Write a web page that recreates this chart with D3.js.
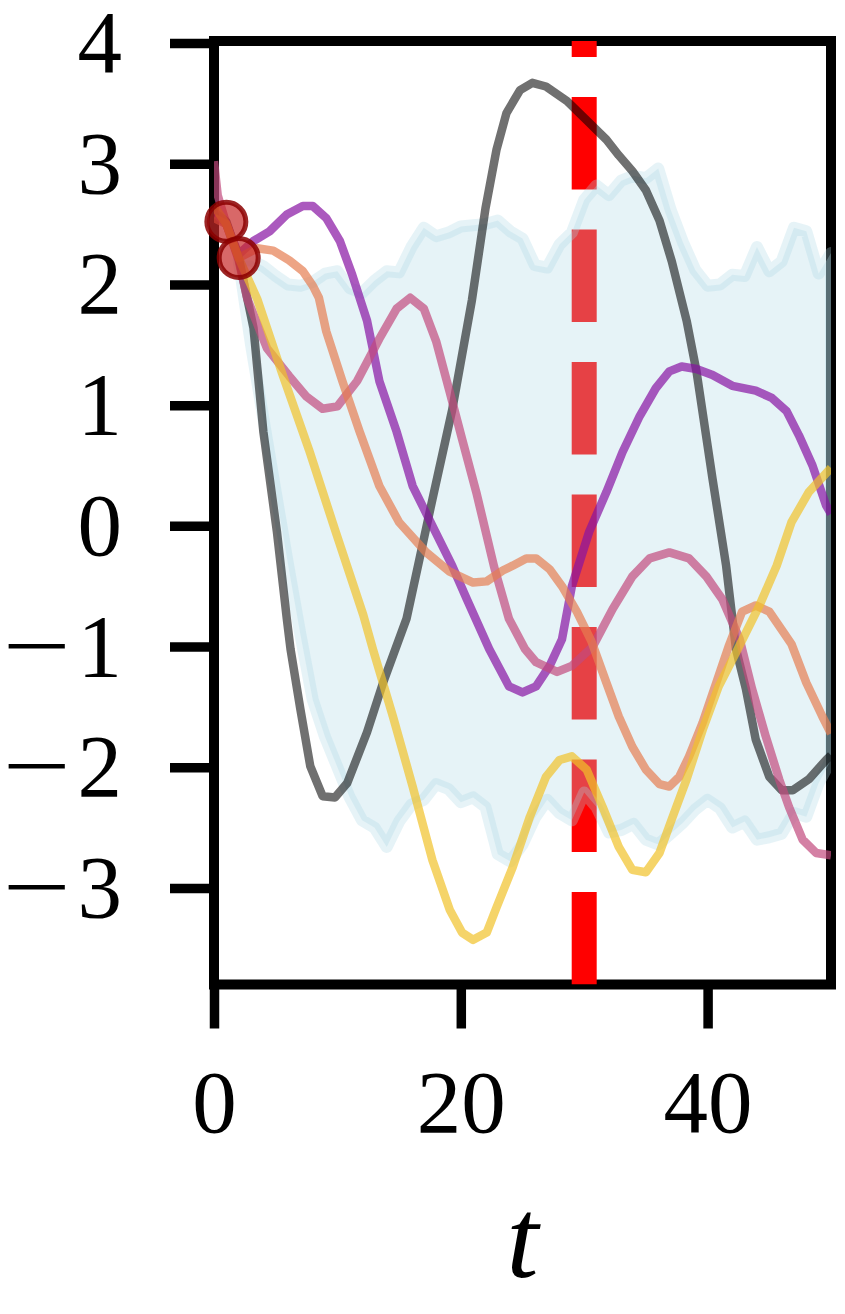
<!DOCTYPE html>
<html>
<head>
<meta charset="utf-8">
<script src="https://cdn.jsdelivr.net/npm/d3@7"></script>
<style>
    body { margin: 0; background: #fff; }
    svg { display: block; }
</style>
</head>
<body>
<div id="chart"></div>
<script>
// Tick values
let xTicks = [0, 20, 40];
let yTicks = [-3, -2, -1, 0, 1, 2, 3, 4];

// Observed points and the marked time
let obsT = [1, 2];
let obsY = [2.52, 2.22];
let markT = 30;

// Uncertainty band
let bandT = [2, 3, 4, 5, 6, 7, 8, 9, 10, 11, 12, 13, 14, 15, 16, 17, 18, 19, 20, 21, 22, 23, 24, 25, 26,
    27, 28, 29, 30, 31, 32, 33, 34, 35, 36, 37, 38, 39, 40, 41, 42, 43, 44, 45, 46, 47, 48, 49, 50];
let bandUpper = [2.20, 2.20, 2.15, 2.07, 2.00, 1.99, 2.02, 2.09, 2.11, 1.97, 1.93, 2.03, 2.11, 2.10, 2.31,
    2.47, 2.40, 2.43, 2.48, 2.49, 2.50, 2.53, 2.44, 2.38, 2.16, 2.14, 2.33, 2.43, 2.70, 2.82, 2.74, 2.86,
    2.90, 2.88, 2.96, 2.62, 2.35, 2.12, 1.99, 2.00, 2.08, 2.07, 2.31, 2.11, 2.19, 2.47, 2.44, 2.09, 2.26];
let bandLower = [2.20, 1.50, 0.89, 0.28, -0.32, -0.90, -1.44, -1.75, -2.00, -2.25, -2.44, -2.50, -2.66,
    -2.45, -2.31, -2.27, -2.14, -2.18, -2.29, -2.25, -2.33, -2.72, -2.78, -2.64, -2.42, -2.27, -2.38, -2.44,
    -2.21, -2.33, -2.54, -2.52, -2.47, -2.60, -2.64, -2.55, -2.46, -2.35, -2.27, -2.34, -2.50, -2.45, -2.60,
    -2.58, -2.55, -2.38, -2.41, -2.13, -1.94];

// Sample paths
let grayT = [0, 1, 2, 3.2, 4.0, 5.1, 5.9, 6.2, 7.0, 7.8, 8.8, 9.8, 10.8, 12.4, 13.7, 15.6, 17.7, 19.3, 20.9,
    22.0, 22.9, 23.7, 24.8, 25.8, 26.9, 28.6, 30.2, 31.8, 32.8, 33.9, 35.0, 36.1, 37.1, 38.3, 39.1, 40.4,
    41.5, 42.3, 43.1, 43.9, 45.0, 46.0, 46.9, 48.2, 49.6, 50];
let grayY = [2.6, 2.52, 2.22, 1.64, 0.78, -0.05, -0.77, -1.02, -1.52, -1.99, -2.24, -2.25, -2.13, -1.71,
    -1.30, -0.77, 0.22, 0.96, 1.87, 2.63, 3.12, 3.42, 3.61, 3.67, 3.64, 3.52, 3.36, 3.20, 3.07, 2.94, 2.78,
    2.53, 2.19, 1.70, 1.28, 0.39, -0.33, -1.02, -1.35, -1.77, -2.08, -2.19, -2.19, -2.10, -1.94, -1.90];

let purpleT = [0, 1, 2, 3.2, 4.5, 5.9, 7.2, 8.0, 9.1, 10.2, 11.2, 11.8, 12.4, 13.4, 14.8, 16.1, 17.7, 19.3,
    20.5, 22.3, 23.9, 25.0, 26.1, 27.2, 28.2, 29.0, 30.4, 31.8, 33.1, 34.5, 35.8, 36.9, 37.9, 39.1, 40.4,
    42.0, 43.9, 45.2, 46.4, 47.4, 48.5, 49.6, 50];
let purpleY = [2.6, 2.5, 2.25, 2.36, 2.44, 2.58, 2.65, 2.65, 2.55, 2.36, 2.08, 1.89, 1.70, 1.20, 0.78, 0.33,
    0.00, -0.33, -0.61, -1.02, -1.33, -1.38, -1.33, -1.16, -0.94, -0.50, -0.05, 0.28, 0.61, 0.91, 1.14, 1.28,
    1.32, 1.30, 1.25, 1.16, 1.12, 1.06, 0.95, 0.75, 0.50, 0.17, 0.10];

let pinkT = [0, 0.3, 1, 2, 2.7, 4.3, 6.1, 7.5, 8.8, 10.0, 11.6, 13.4, 14.8, 15.9, 17.0, 18.0, 19.1, 20.1,
    21.3, 22.7, 23.9, 25.2, 26.1, 27.8, 29.0, 30.7, 32.3, 33.9, 35.3, 36.9, 38.5, 39.9, 41.2, 42.6, 43.6,
    44.7, 45.8, 46.6, 47.7, 48.8, 50];
let pinkY = [3.02, 2.74, 2.5, 2.2, 1.88, 1.47, 1.24, 1.07, 0.97, 0.99, 1.20, 1.55, 1.80, 1.89, 1.80, 1.53,
    1.11, 0.72, 0.26, -0.34, -0.77, -1.02, -1.13, -1.21, -1.16, -1.00, -0.69, -0.42, -0.27, -0.22, -0.27,
    -0.42, -0.61, -0.94, -1.35, -1.74, -2.10, -2.33, -2.60, -2.71, -2.73];

let orangeT = [0, 1, 2, 3.5, 4.8, 6.1, 7.2, 8.0, 8.5, 9.1, 10.4, 11.8, 13.4, 15.0, 17.2, 19.1, 21.0, 22.1,
    23.4, 24.2, 25.3, 26.1, 27.2, 28.2, 29.4, 30.6, 31.8, 32.8, 33.9, 35.0, 36.1, 36.9, 37.7, 38.5, 39.6,
    40.7, 41.7, 42.8, 43.9, 45.0, 46.0, 46.8, 48.0, 49.3, 50];
let orangeY = [2.55, 2.5, 2.22, 2.30, 2.28, 2.20, 2.11, 1.99, 1.89, 1.61, 1.20, 0.78, 0.33, 0.03, -0.22,
    -0.38, -0.47, -0.46, -0.37, -0.33, -0.27, -0.27, -0.36, -0.50, -0.71, -0.96, -1.30, -1.58, -1.83, -2.02,
    -2.14, -2.16, -2.08, -1.91, -1.63, -1.30, -1.00, -0.71, -0.66, -0.71, -0.86, -0.98, -1.30, -1.58, -1.72];

let yellowT = [0, 1, 2, 3.5, 5.5, 7.7, 9.8, 12.1, 12.9, 14.5, 16.1, 17.7, 19.1, 20.1, 21.0, 22.1, 22.9,
    24.2, 25.6, 26.9, 28.0, 29.0, 30.2, 31.5, 32.8, 33.9, 35.0, 36.1, 37.1, 38.3, 39.6, 40.9, 42.3, 44.2,
    45.6, 46.8, 48.2, 50];
let yellowY = [2.65, 2.5, 2.22, 1.88, 1.27, 0.63, -0.03, -0.74, -1.03, -1.58, -2.16, -2.77, -3.18, -3.37,
    -3.43, -3.37, -3.16, -2.83, -2.41, -2.08, -1.94, -1.91, -2.02, -2.33, -2.66, -2.85, -2.87, -2.71, -2.43,
    -2.10, -1.69, -1.33, -1.05, -0.66, -0.33, 0.03, 0.28, 0.48];

let paths = [
    { t: grayT, v: grayY, color: "#000000", opacity: 0.56 },
    { t: purpleT, v: purpleY, color: "rgb(136, 19, 162)", opacity: 0.7 },
    { t: pinkT, v: pinkY, color: "rgb(194, 74, 126)", opacity: 0.7 },
    { t: orangeT, v: orangeY, color: "rgb(229, 126, 81)", opacity: 0.7 },
    { t: yellowT, v: yellowY, color: "rgb(241, 194, 41)", opacity: 0.7 }
];

/* Set up container */
let container_width = 845;
let container_height = 1314;
let margin = { top: 41, left: 214, bottom: 329.5, right: 14 };
let width = container_width - margin.left - margin.right;
let height = container_height - margin.top - margin.bottom;

let svg = d3.select("#chart")
    .append("svg")
    .attr("width", container_width)
    .attr("height", container_height);

let g = svg.append('g')
    .attr("transform", `translate(${margin.left}, ${margin.top})`);

/* Scales */
let xScale = d3.scaleLinear()
    .domain([0, 50])
    .range([0, width]);

let yScale = d3.scaleLinear()
    .domain([-3.8, 4.017])
    .range([height, 0]);

g.append("defs")
    .append("clipPath")
    .attr("id", "clip")
    .append("rect")
    .attr('x', 0)
    .attr('y', 0)
    .attr("width", width)
    .attr("height", height);

let main = g.append('g')
    .attr("clip-path", "url(#clip)");

/* Dashed marker */
let markLine = d3.line()
    .x(d => xScale(d[0]))
    .y(d => yScale(d[1]));

main.append("path")
    .datum([[markT, yScale.domain()[0]], [markT, yScale.domain()[1]]])
    .attr('d', markLine)
    .attr("stroke", "red")
    .attr("stroke-width", 25)
    .attr("stroke-dasharray", "92.5 40")
    .attr("fill", "none");

/* Band */
let bandData = bandT.map((t, i) => [t, bandLower[i], bandUpper[i]]);

let area = d3.area()
    .x(d => xScale(d[0]))
    .y0(d => yScale(d[1]))
    .y1(d => yScale(d[2]));

main.append("path")
    .datum(bandData)
    .attr('d', area)
    .attr("fill", "lightblue")
    .attr("fill-opacity", 0.3)
    .attr("stroke", "lightblue")
    .attr("stroke-opacity", 0.3)
    .attr("stroke-width", 12)
    .attr("stroke-linejoin", "round");

/* Axes */
let tickFont = "'Liberation Serif', serif";
let tickSizePx = 89;

let xAxis = d3.axisBottom(xScale)
    .tickValues(xTicks)
    .tickSize(44)
    .tickPadding(40)
    .tickFormat(d => String(d));

let yAxis = d3.axisLeft(yScale)
    .tickValues(yTicks)
    .tickSize(44)
    .tickPadding(48)
    .tickFormat(d => String(Math.abs(d)));

let gx = g.append('g')
    .attr("transform", `translate(0, ${height})`)
    .call(xAxis);

let gy = g.append('g')
    .call(yAxis);

[gx, gy].forEach(a => {
    a.select(".domain").remove();
    a.selectAll(".tick line")
        .attr("stroke", "#000")
        .attr("stroke-width", 9.5);
    a.selectAll(".tick text")
        .attr("fill", "#000")
        .attr("font-family", tickFont)
        .attr("font-size", tickSizePx);
});

// wide math minus in front of negative labels (ink spans x = 8..65 on the page)
let ctx = document.createElement("canvas").getContext("2d");
ctx.font = `${tickSizePx}px ${tickFont}`;
let mm = ctx.measureText("\u2212");
let inkL = mm.actualBoundingBoxLeft || 0;
let inkR = mm.actualBoundingBoxRight || tickSizePx * 0.5;
let minusScale = 57 / (inkL + inkR);
let minusX = 8 - margin.left + minusScale * inkL;

gy.selectAll(".tick").each(function (d) {
    if (d >= 0) return;
    d3.select(this)
        .append("text")
        .attr("transform", `translate(${minusX}, 0) scale(${minusScale}, 1)`)
        .attr("text-anchor", "start")
        .attr("dy", "0.32em")
        .attr("fill", "#000")
        .attr("font-family", tickFont)
        .attr("font-size", tickSizePx)
        .text("\u2212");
});

// box spines
g.append("rect")
    .attr('x', 0)
    .attr('y', 0)
    .attr("width", width)
    .attr("height", height)
    .attr("fill", "none")
    .attr("stroke", "#000")
    .attr("stroke-width", 10);

g.append("text")
    .attr('x', width / 2)
    .attr('y', 1277 - margin.top)
    .attr("text-anchor", "middle")
    .attr("font-family", tickFont)
    .attr("font-style", "italic")
    .attr("font-size", 115)
    .attr("fill", "#000")
    .text("t");

/* Sample paths */
let line = d3.line()
    .x(d => xScale(d[0]))
    .y(d => yScale(d[1]));

main.raise();
paths.forEach(p => {
    main.append("path")
        .datum(p.t.map((t, i) => [t, p.v[i]]))
        .attr('d', line)
        .attr("fill", "none")
        .attr("stroke", p.color)
        .attr("stroke-opacity", p.opacity)
        .attr("stroke-width", 8.5)
        .attr("stroke-linejoin", "round");
});

/* Observations */
g.selectAll(".obs")
    .data(obsT.map((t, i) => [t, obsY[i]]))
    .enter()
    .append("circle")
    .attr("class", "obs")
    .attr("cx", d => xScale(d[0]))
    .attr("cy", d => yScale(d[1]))
    .attr('r', 19.5)
    .attr("fill", "rgb(200, 40, 40)")
    .attr("fill-opacity", 0.7)
    .attr("stroke", "rgb(139, 0, 0)")
    .attr("stroke-opacity", 0.85)
    .attr("stroke-width", 5);
</script>
</body>
</html>
